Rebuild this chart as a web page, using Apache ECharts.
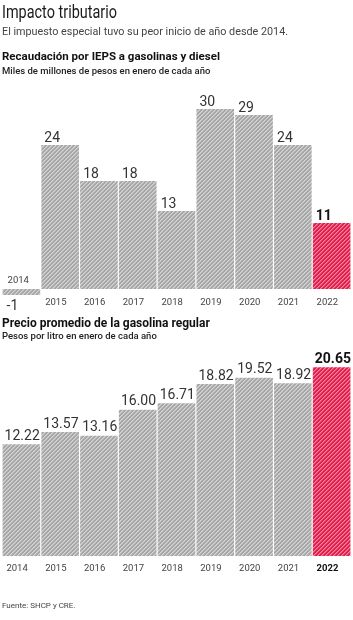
<!DOCTYPE html>
<html>
<head>
<meta charset="utf-8">
<script src="https://cdn.jsdelivr.net/npm/echarts@6/dist/echarts.min.js"></script>
<style>
  html, body { margin: 0; padding: 0; background: #fff; }
  #container { width: 353px; height: 620px; }
</style>
</head>
<body>
<div id="container"></div>
<script>
// datos
var years = ['2014', '2015', '2016', '2017', '2018', '2019', '2020', '2021', '2022'];
var ieps = [-1, 24, 18, 18, 13, 30, 29, 24, 11];
var precio = [12.22, 13.57, 13.16, 16.00, 16.71, 18.82, 19.52, 18.92, 20.65];

var FONT = 'Roboto';

// patron rayado "/" para las barras
function stripes(base, light) {
    var c = document.createElement('canvas');
    c.width = 4;
    c.height = 4;
    var ctx = c.getContext('2d');
    ctx.fillStyle = base;
    ctx.fillRect(0, 0, 4, 4);
    ctx.fillStyle = light;
    for (var x = 0; x < 4; x++) {
        for (var y = 0; y < 4; y++) {
            if ((x + y) % 4 === 0) ctx.fillRect(x, y, 1, 1);
        }
    }
    ctx.globalAlpha = 0.5;
    for (var x2 = 0; x2 < 4; x2++) {
        for (var y2 = 0; y2 < 4; y2++) {
            if ((x2 + y2) % 4 === 1) ctx.fillRect(x2, y2, 1, 1);
        }
    }
    return { image: c, repeat: 'repeat' };
}
var grayFill = stripes('#a6a6a6', '#d6d6d6');
var redFill = stripes('#e11d4b', '#f5869f');

// etiquetas de anio alineadas a la izquierda de cada barra
function yearLabel(hideFirst, boldLast, margin) {
    return {
        interval: 0,
        fontSize: 9.5,
        fontFamily: FONT,
        color: '#444',
        margin: margin,
        align: 'center',
        formatter: function (v, i) {
            if (hideFirst && i === 0) return '';
            if (boldLast && i === years.length - 1) return '{b|' + v + '}';
            return '{a|' + v + '}';
        },
        rich: {
            a: { width: 30, align: 'left', fontSize: 9.5, fontFamily: FONT, color: '#444' },
            b: { width: 30, align: 'left', fontSize: 9.5, fontFamily: FONT, color: '#111', fontWeight: 'bold' }
        }
    };
}

var iepsData = ieps.map(function (v, i) {
    var item = { value: v };
    if (i === years.length - 1) {
        item.itemStyle = { color: redFill };
        item.label = { fontWeight: 'bold', color: '#111' };
    }
    if (v < 0) {
        // el -1 va debajo de la barra
        item.label = { position: [4, 10], verticalAlign: 'top' };
    }
    return item;
});

var precioData = precio.map(function (v, i) {
    var item = { value: v };
    if (i === years.length - 1) {
        item.itemStyle = { color: redFill };
        item.label = { fontWeight: 'bold', color: '#111' };
    }
    return item;
});

// solo para escribir "2014" arriba de la barra negativa
var helperData = years.map(function (y, i) { return i === 0 ? 0 : '-'; });

var textTitle = function (text, top, size, weight, color) {
    return {
        text: text,
        left: 2,
        top: top,
        padding: 0,
        textStyle: { fontSize: size, fontWeight: weight, color: color, fontFamily: FONT }
    };
};

var dom = document.getElementById('container');
var myChart = echarts.init(dom);
var option = {
    backgroundColor: '#fff',
    animation: false,
    // titulo principal con letra condensada
    graphic: [
        {
            type: 'text',
            x: 2,
            y: 4,
            scaleX: 0.76,
            style: {
                text: 'Impacto tributario',
                font: 'normal 19px Roboto',
                fill: '#1a1a1a',
                textVerticalAlign: 'top'
            }
        }
    ],
    title: [
        textTitle('El impuesto especial tuvo su peor inicio de año desde 2014.', 26.5, 10.8, 'normal', '#444'),
        textTitle('Recaudación por IEPS a gasolinas y diesel', 51, 11.5, 'bold', '#111'),
        textTitle('Miles de millones de pesos en enero de cada año', 66.5, 9.5, 500, '#222'),
        textTitle('Precio promedio de la gasolina regular', 317.5, 12, 'bold', '#111'),
        textTitle('Pesos por litro en enero de cada año', 332, 9.5, 500, '#222'),
        textTitle('Fuente: SHCP y CRE.', 601.5, 8, 'normal', '#444')
    ],
    grid: [
        { left: 2, right: 2, top: 97, bottom: 325, outerBoundsMode: 'none' },
        { left: 2, right: 2, top: 355, bottom: 64, outerBoundsMode: 'none' }
    ],
    xAxis: [
        {
            gridIndex: 0,
            type: 'category',
            data: years,
            axisLine: { show: false, onZero: false },
            axisTick: { show: false },
            axisLabel: yearLabel(true, false, 3)
        },
        {
            gridIndex: 1,
            type: 'category',
            data: years,
            axisLine: { show: false, onZero: false },
            axisTick: { show: false },
            axisLabel: yearLabel(false, true, 8)
        }
    ],
    yAxis: [
        { gridIndex: 0, type: 'value', min: -1, max: 32, show: false, splitLine: { show: false } },
        { gridIndex: 1, type: 'value', min: 0, max: 22, show: false, splitLine: { show: false } }
    ],
    series: [
        {
            name: 'IEPS',
            type: 'bar',
            xAxisIndex: 0,
            yAxisIndex: 0,
            barCategoryGap: '3%',
            barGap: '-100%',
            itemStyle: { color: grayFill },
            label: {
                show: true,
                position: [3, 0],
                verticalAlign: 'bottom',
                fontSize: 14,
                fontFamily: FONT,
                color: '#333'
            },
            data: iepsData
        },
        {
            name: 'anio2014',
            type: 'bar',
            xAxisIndex: 0,
            yAxisIndex: 0,
            barCategoryGap: '3%',
            barGap: '-100%',
            itemStyle: { color: 'rgba(0,0,0,0)' },
            label: {
                show: true,
                position: [5, -3],
                verticalAlign: 'bottom',
                fontSize: 9.5,
                fontFamily: FONT,
                color: '#444',
                formatter: '2014'
            },
            data: helperData
        },
        {
            name: 'Precio',
            type: 'bar',
            xAxisIndex: 1,
            yAxisIndex: 1,
            barCategoryGap: '3%',
            itemStyle: { color: grayFill },
            label: {
                show: true,
                position: [2, -1],
                verticalAlign: 'bottom',
                fontSize: 14,
                fontFamily: FONT,
                color: '#333',
                formatter: function (p) { return p.value.toFixed(2); }
            },
            data: precioData
        }
    ]
};
myChart.setOption(option, true);
</script>
</body>
</html>
